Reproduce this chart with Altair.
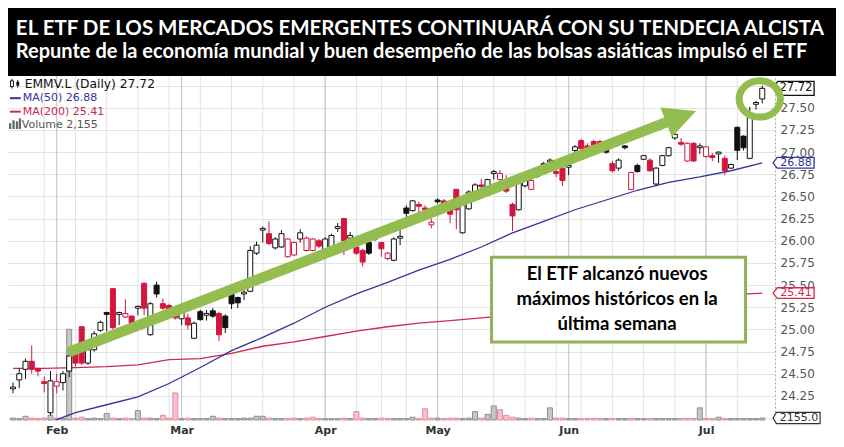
import altair as alt
import pandas as pd

# ---------------- values ----------------
START, END = "2017-01-23", "2017-07-14"
HOLIDAYS = ["2017-04-14", "2017-04-17", "2017-05-01", "2017-05-29"]

OPEN = [24.33, 24.43, 24.55, 24.64, 24.56, 24.41, 24.06, 24.36, 24.40, 24.53,
        24.72, 25.03, 24.62, 24.77, 24.99, 25.19, 25.46, 25.17, 25.14, 25.15,
        25.24, 25.52, 24.94, 25.50, 25.29, 25.27, 25.18, 25.12, 25.13, 24.90,
        25.20, 25.16, 25.21, 25.18, 25.15, 25.40, 25.36, 25.40, 25.43, 25.86,
        26.12, 26.08, 25.92, 25.93, 25.82, 25.84, 26.02, 25.89, 25.89, 26.00,
        25.90, 25.92, 26.14, 26.25, 26.03, 25.93, 25.89, 25.98, 26.02, 25.98,
        25.80, 25.78, 26.03, 26.37, 26.34, 26.41, 26.37, 26.18, 26.46, 26.45,
        26.42, 26.58, 26.09, 26.36, 26.55, 26.63, 26.60, 26.76, 26.69, 26.62,
        26.41, 26.35, 26.62, 26.58, 26.76, 26.87, 26.89, 26.78, 26.82, 26.83,
        27.02, 27.13, 27.07, 27.12, 27.12, 27.05, 26.87, 26.82, 27.07, 26.58,
        26.85, 26.92, 26.91, 26.64, 26.85, 26.96, 27.16, 27.11, 26.90, 27.10,
        27.05, 26.95, 26.96, 26.98, 26.93, 26.82, 27.28, 27.18, 26.93, 27.54,
        27.60]
HIGH = [24.40, 24.56, 24.67, 24.82, 24.56, 24.47, 24.53, 24.50, 24.53, 24.73,
        24.75, 25.04, 24.79, 24.98, 25.10, 25.20, 25.46, 25.20, 25.34, 25.16,
        25.27, 25.53, 25.31, 25.54, 25.35, 25.29, 25.21, 25.27, 25.18, 25.09,
        25.22, 25.22, 25.24, 25.20, 25.17, 25.42, 25.37, 25.46, 25.94, 25.99,
        26.16, 26.22, 26.04, 26.12, 26.03, 25.99, 26.13, 26.05, 26.03, 26.02,
        26.04, 26.08, 26.20, 26.26, 26.10, 25.94, 25.91, 26.00, 26.10, 25.98,
        25.87, 26.04, 26.12, 26.40, 26.46, 26.44, 26.40, 26.25, 26.48, 26.47,
        26.44, 26.58, 26.47, 26.57, 26.65, 26.70, 26.70, 26.80, 26.80, 26.74,
        26.43, 26.76, 26.71, 26.70, 26.78, 26.89, 26.93, 26.80, 26.84, 26.86,
        27.08, 27.15, 27.10, 27.14, 27.14, 27.07, 26.90, 26.93, 27.08, 26.78,
        26.87, 26.97, 26.93, 26.83, 26.97, 27.06, 27.22, 27.16, 27.11, 27.11,
        27.10, 27.07, 26.99, 27.01, 26.96, 26.87, 27.29, 27.19, 27.51, 27.58,
        27.75]
LOW = [24.28, 24.34, 24.44, 24.50, 24.47, 24.29, 24.03, 24.28, 24.31, 24.46,
       24.58, 24.60, 24.60, 24.75, 24.97, 24.98, 25.00, 25.05, 25.13, 25.04,
       25.16, 25.16, 24.93, 25.36, 25.22, 25.19, 25.11, 25.05, 25.00, 24.89,
       25.10, 25.10, 25.13, 24.87, 24.96, 25.23, 25.24, 25.33, 25.42, 25.84,
       25.98, 25.95, 25.90, 25.92, 25.81, 25.83, 25.98, 25.88, 25.88, 25.92,
       25.88, 25.90, 26.10, 25.84, 26.00, 25.84, 25.71, 25.84, 26.00, 25.82,
       25.78, 25.77, 25.95, 26.26, 26.33, 26.32, 26.30, 26.14, 26.42, 26.39,
       26.20, 26.13, 26.08, 26.35, 26.53, 26.56, 26.58, 26.69, 26.68, 26.54,
       26.11, 26.34, 26.60, 26.57, 26.71, 26.82, 26.86, 26.72, 26.62, 26.74,
       27.00, 27.02, 27.00, 27.06, 27.06, 26.98, 26.77, 26.79, 27.03, 26.57,
       26.77, 26.91, 26.78, 26.62, 26.84, 26.95, 27.14, 27.07, 26.89, 26.89,
       26.98, 26.94, 26.90, 26.88, 26.74, 26.81, 26.91, 27.02, 26.92, 27.48,
       27.55]
CLOSE = [24.35, 24.50, 24.64, 24.55, 24.53, 24.39, 24.42, 24.41, 24.50, 24.70,
         24.62, 24.62, 24.77, 24.95, 25.08, 25.17, 25.02, 25.19, 25.18, 25.07,
         25.26, 25.24, 25.29, 25.40, 25.24, 25.22, 25.13, 25.20, 25.05, 25.07,
         25.11, 25.18, 25.15, 24.94, 25.02, 25.29, 25.30, 25.42, 25.89, 25.95,
         26.14, 25.97, 26.02, 26.08, 26.02, 25.98, 26.09, 26.03, 26.02, 25.94,
         26.02, 26.06, 26.16, 26.00, 26.06, 25.86, 25.76, 25.86, 26.08, 25.91,
         25.86, 26.02, 26.05, 26.31, 26.45, 26.39, 26.35, 26.21, 26.44, 26.41,
         26.30, 26.35, 26.45, 26.55, 26.63, 26.61, 26.69, 26.78, 26.76, 26.56,
         26.28, 26.74, 26.69, 26.68, 26.73, 26.84, 26.91, 26.76, 26.68, 26.85,
         27.06, 27.04, 27.03, 27.08, 27.09, 27.00, 26.79, 26.91, 27.05, 26.77,
         26.78, 26.96, 26.79, 26.82, 26.96, 27.05, 27.20, 27.09, 27.10, 26.90,
         27.07, 27.06, 26.94, 27.00, 26.79, 26.86, 27.02, 27.05, 27.39, 27.56,
         27.72]
# k = black candle (up vs previous close), r = red candle
COLOR = list("kkkrrrkrkk" "rrkkkkrkrr" "krkkrrrkrk" "kkkrkkkkkk" "krkkrrkrrr"
             "kkkrkrrkkr" "rkkkkrrrkr" "rrkkkrkkrr" "rkkrkkkrrk" "krrrrkrkkr"
             "kkrkkkkrrr" "krrkrkkkkk" "k")
VOLUME = [2000, 1500, 4000, 2000, 1500, 2000, 5000, 2000, 1500, 97000,
          2000, 3000, 1500, 2000, 1500, 7000, 2000, 1500, 2000, 1500,
          10000, 2000, 2000, 1500, 5000, 2000, 29000, 1500, 2000, 1500,
          1500, 1500, 4000, 2000, 1500, 1500, 1500, 2000, 2000, 4000,
          4000, 2000, 1500, 1500, 1500, 2000, 1500, 2000, 3000, 1500,
          1500, 1500, 1500, 2000, 1500, 9000, 2000, 1500, 1500, 2000,
          1500, 1500, 1500, 1500, 3000, 1500, 12000, 2000, 2000, 1500,
          2000, 2000, 1500, 2000, 9000, 2000, 6000, 15000, 11000, 5000,
          3000, 2000, 1500, 2000, 1500, 1500, 13000, 2000, 2000, 1500,
          1500, 1500, 1500, 1500, 1500, 1500, 1500, 1500, 1500, 1500,
          1500, 1500, 1500, 1500, 1500, 1500, 1500, 1500, 1500, 1500,
          13000, 1500, 1500, 3000, 1500, 1500, 1500, 1500, 1500, 1500,
          2155]

MA_DAYS = [0, 5, 10, 15, 20, 25, 30, 35, 40, 45, 50, 55, 60, 65, 70, 75, 80,
           85, 90, 95, 100, 105, 110, 115, 120]
MA50 = [23.82, 23.93, 24.06, 24.15, 24.24, 24.39, 24.57, 24.76, 24.91, 25.07,
        25.25, 25.40, 25.53, 25.67, 25.79, 25.93, 26.09, 26.22, 26.35, 26.46,
        26.57, 26.66, 26.72, 26.79, 26.88]
MA200 = [24.56, 24.56, 24.57, 24.58, 24.60, 24.66, 24.67, 24.73, 24.81, 24.86,
         24.92, 24.98, 25.03, 25.07, 25.10, 25.13, 25.16, 25.19, 25.23, 25.26,
         25.29, 25.33, 25.36, 25.39, 25.41]

MONTHS = ["Feb", "Mar", "Apr", "May", "Jun", "Jul"]
PRICE_TICKS = [24.00, 24.25, 24.50, 24.75, 25.00, 25.25, 25.50, 25.75,
               26.00, 26.25, 26.50, 26.75, 27.00, 27.25, 27.50, 27.75]
LAST_CLOSE, LAST_MA50, LAST_MA200, LAST_VOLUME = 27.72, 26.88, 25.41, 2155

TITLE = "EL ETF DE LOS MERCADOS EMERGENTES CONTINUARÁ CON SU TENDECIA ALCISTA"
SUBTITLE = ("Repunte de la economía mundial y buen desempeño de las bolsas "
            "asiáticas impulsó el ETF")
NOTE = ["El ETF alcanzó nuevos", "máximos históricos en la", "última semana"]
LEGEND = ["EMMV.L (Daily) 27.72", "MA(50) 26.88", "MA(200) 25.41", "Volume 2,155"]

ARROW_FROM = (8.8, 24.74)   # (trading day, price)
ARROW_TO = (107.0, 27.40)
CIRCLE_AT = (119.6, 27.60)

# ---------------- layout / style ----------------
W, H = 767, 344
TOP, BOTTOM, RIGHT = 68, 19, 61
SX, SY = W / 782.0, H / 357.0


def px(x):
    return x * SX


def py(y):
    return (y - 70) * SY


GREEN = "#93bd4f"
NAVY = "#34349a"
CRIMSON = "#d0284f"
RED = "#d3163f"
BLACK = "#111111"

dates = pd.bdate_range(START, END)
dates = dates[~dates.isin(pd.to_datetime(HOLIDAYS))]
n = len(dates)

df = pd.DataFrame({"i": list(range(n)), "date": dates.strftime("%Y-%m-%d"),
                   "open": OPEN, "high": HIGH, "low": LOW, "close": CLOSE,
                   "col": COLOR, "volume": VOLUME})
df["stroke"] = [BLACK if c == "k" else RED for c in COLOR]
df["fill"] = ["#ffffff" if c > o else s for o, c, s in zip(OPEN, CLOSE, df["stroke"])]
df["vfill"] = ["#c6c6c6" if c == "k" else "#f6c0ca" for c in COLOR]
df["vstroke"] = ["#8e8e8e" if c == "k" else "#e38a9d" for c in COLOR]

month_start = [i for i in range(1, n) if dates[i].month != dates[i - 1].month]
week_start = [i for i in range(1, n)
              if dates[i].isocalendar()[1] != dates[i - 1].isocalendar()[1]]

X_SCALE = alt.Scale(domain=[0, 121.24], nice=False, zero=False)
Y_SCALE = alt.Scale(domain=[23.978, 27.859], nice=False, zero=False)
V_SCALE = alt.Scale(domain=[0, 368000], nice=False, zero=False)

label_expr = " : ".join(f"datum.value == {i} ? '{m}'"
                        for i, m in zip(month_start, MONTHS)) + " : ''"
# labels hidden behind the value tags in the reference are left blank
y_label_expr = ("datum.value < 24.1 || datum.value > 27.7 ? '' : "
                "format(datum.value, '.2f')")
X_AXIS = alt.Axis(values=month_start, labelExpr=label_expr, grid=False, ticks=False,
                  domain=False, labelFont="DejaVu Sans", labelFontWeight="bold",
                  labelFontSize=11, labelColor="#333333", labelPadding=4,
                  labelOverlap=False, title=None)
Y_AXIS = alt.Axis(orient="right", values=PRICE_TICKS, labelExpr=y_label_expr, grid=True,
                  gridColor="#e2e2e2", ticks=False, domain=True, domainColor="#aaaaaa",
                  domainDash=[2, 2], labelFont="DejaVu Sans", labelFontSize=12,
                  labelColor="#555555", labelPadding=5, labelOverlap=False, title=None)


def X(field="i"):
    return alt.X(f"{field}:Q", scale=X_SCALE, axis=X_AXIS)


def Y(field):
    return alt.Y(f"{field}:Q", scale=Y_SCALE, axis=Y_AXIS)


one = pd.DataFrame({"k": [0]})

# gridlines
grid_week = alt.Chart(pd.DataFrame({"i": week_start})).mark_rule(
    color="#e2e2e2", strokeWidth=1).encode(x=X())
grid_month = alt.Chart(pd.DataFrame({"i": month_start})).mark_rule(
    color="#c2c2c2", strokeWidth=1).encode(x=X())

# volume
vol_bars = alt.Chart(df).mark_bar(size=5, strokeWidth=1).encode(
    x=X(), y=alt.Y("volume:Q", scale=V_SCALE, axis=None), y2=alt.datum(0),
    fill=alt.Fill("vfill:N", scale=None), stroke=alt.Stroke("vstroke:N", scale=None))
VTAG = "M -1 0 L -0.86 -0.24 L 1 -0.24 L 1 0.24 L -0.86 0.24 Z"
vdf = pd.DataFrame({"v": [LAST_VOLUME], "label": [f"{LAST_VOLUME:.1f}"]})
vol_tag = alt.Chart(vdf).mark_point(
    shape=VTAG, size=2209, filled=True, fill="white", stroke="#333333",
    strokeWidth=1.2, opacity=1, fillOpacity=1, strokeOpacity=1).encode(
    x=alt.value(W + 21.6), y=alt.Y("v:Q", scale=V_SCALE, axis=None))
vol_txt = alt.Chart(vdf).mark_text(
    font="DejaVu Sans", fontSize=11, color="#333333", align="center",
    baseline="middle").encode(
    x=alt.value(W + 24), y=alt.Y("v:Q", scale=V_SCALE, axis=None), text="label:N")
volume_group = alt.layer(vol_bars, vol_tag, vol_txt)

# moving averages
ma = pd.DataFrame({"i": MA_DAYS, "ma50": MA50, "ma200": MA200})
ma200 = alt.Chart(ma).mark_line(color=CRIMSON, strokeWidth=1.3, clip=True).encode(
    x=X(), y=Y("ma200"))
ma50 = alt.Chart(ma).mark_line(color=NAVY, strokeWidth=1.3, clip=True).encode(
    x=X(), y=Y("ma50"))

# candles
wicks = alt.Chart(df).mark_rule(strokeWidth=1, clip=True).encode(
    x=X(), y=Y("low"), y2="high:Q", color=alt.Color("stroke:N", scale=None))
bodies = alt.Chart(df).mark_bar(size=5, strokeWidth=1, clip=True).encode(
    x=X(), y=Y("open"), y2="close:Q",
    fill=alt.Fill("fill:N", scale=None), stroke=alt.Stroke("stroke:N", scale=None))

# arrow
adf = pd.DataFrame({"i": [ARROW_FROM[0]], "p": [ARROW_FROM[1]],
                    "i2": [ARROW_TO[0]], "p2": [ARROW_TO[1]]})
shaft = alt.Chart(adf).mark_rule(color=GREEN, strokeWidth=10.5, strokeCap="butt").encode(
    x=X(), y=Y("p"), x2="i2:Q", y2="p2:Q")
HEAD = "M -1 -1 L 1 0 L -1 1 Z"
head = alt.Chart(adf).mark_point(
    shape=HEAD, size=1024, angle=339, filled=True, color=GREEN, opacity=1,
    strokeWidth=0).encode(x=X("i2"), y=Y("p2"))

# price tags on the right axis: last close (taller) and the two averages
close_tag = pd.DataFrame({"p": [LAST_CLOSE], "label": [f"{LAST_CLOSE:.2f}"], "col": [BLACK]})
ma_tags = pd.DataFrame({"p": [LAST_MA50, LAST_MA200],
                        "label": [f"{LAST_MA50:.2f}", f"{LAST_MA200:.2f}"],
                        "col": [NAVY, CRIMSON]})
TAG_TALL = "M -1 0 L -0.78 -0.34 L 1 -0.34 L 1 0.34 L -0.78 0.34 Z"
TAG_LOW = "M -1 0 L -0.8 -0.26 L 1 -0.26 L 1 0.26 L -0.8 0.26 Z"
tag_layers = []
for data, shape, fs in ((close_tag, TAG_TALL, 11.5), (ma_tags, TAG_LOW, 11)):
    tag_layers.append(alt.Chart(data).mark_point(
        shape=shape, size=1681, filled=True, fill="white", strokeWidth=1.3, opacity=1,
        fillOpacity=1, strokeOpacity=1).encode(
        x=alt.value(W + 18.6), y=Y("p"), stroke=alt.Stroke("col:N", scale=None)))
    tag_layers.append(alt.Chart(data).mark_text(
        font="DejaVu Sans", fontSize=fs, align="center", baseline="middle").encode(
        x=alt.value(W + 21), y=Y("p"), text="label:N",
        color=alt.Color("col:N", scale=None)))

# green circle around the latest highs
cdf = pd.DataFrame({"i": [CIRCLE_AT[0]], "p": [CIRCLE_AT[1]]})
ELLIPSE = "M -1 0 A 1 0.88 0 1 1 1 0 A 1 0.88 0 1 1 -1 0 Z"
circle = alt.Chart(cdf).mark_point(
    shape=ELLIPSE, size=1700, filled=False, stroke=GREEN, strokeWidth=7,
    opacity=1, strokeOpacity=1).encode(x=X(), y=Y("p"))

price_group = alt.layer(ma200, ma50, wicks, bodies, shaft, head, *tag_layers, circle)

# annotation box
ann_box = alt.Chart(one).mark_rect(fill="white", stroke="#92b05a", strokeWidth=3).encode(
    x=alt.value(px(493)), x2=alt.value(px(752)), y=alt.value(py(258)), y2=alt.value(py(346)))
ann_texts = []
for k, line in enumerate(NOTE):
    ann_texts.append(alt.Chart(one).mark_text(
        font="Lato", fontWeight="bold", fontSize=18.5, color="black", align="center",
        baseline="middle").encode(
        x=alt.value(px(621)), y=alt.value(py(275 + 26 * k)), text=alt.value(line)))

# banner with title
banner = alt.Chart(one).mark_rect(fill="black").encode(
    x=alt.value(0), x2=alt.value(W + RIGHT), y=alt.value(-TOP), y2=alt.value(0))
title_txt = alt.Chart(one).mark_text(
    font="Lato", fontWeight="bold", fontSize=20.5, color="white", align="left",
    baseline="alphabetic").encode(x=alt.value(px(8)), y=alt.value(py(27)), text=alt.value(TITLE))
subtitle_txt = alt.Chart(one).mark_text(
    font="Lato", fontWeight="bold", fontSize=20, color="white", align="left",
    baseline="alphabetic").encode(x=alt.value(px(8)), y=alt.value(py(51)), text=alt.value(SUBTITLE))

# legend at top-left
leg = []
leg_y = [78, 93, 107, 121]
leg_x = [17, 15, 15, 14]
leg_col = [BLACK, NAVY, CRIMSON, "#555555"]
leg_size = [12.3, 11, 11, 11]
for k in range(4):
    leg.append(alt.Chart(one).mark_text(
        font="DejaVu Sans", fontSize=leg_size[k], color=leg_col[k], align="left",
        baseline="middle").encode(
        x=alt.value(px(leg_x[k])), y=alt.value(py(leg_y[k])), text=alt.value(LEGEND[k])))
# icons
leg.append(alt.Chart(one).mark_rule(color=BLACK, strokeWidth=1).encode(
    x=alt.value(px(4)), y=alt.value(py(73)), y2=alt.value(py(83))))
leg.append(alt.Chart(one).mark_rect(fill="white", stroke=BLACK, strokeWidth=1).encode(
    x=alt.value(px(2.5)), x2=alt.value(px(5.5)), y=alt.value(py(75)), y2=alt.value(py(81))))
leg.append(alt.Chart(one).mark_rule(color=BLACK, strokeWidth=1).encode(
    x=alt.value(px(10)), y=alt.value(py(74)), y2=alt.value(py(82))))
leg.append(alt.Chart(one).mark_rect(fill=BLACK).encode(
    x=alt.value(px(8.5)), x2=alt.value(px(11.5)), y=alt.value(py(76)), y2=alt.value(py(80))))
for k, c in ((1, NAVY), (2, CRIMSON)):
    leg.append(alt.Chart(one).mark_rule(color=c, strokeWidth=2).encode(
        x=alt.value(px(2)), x2=alt.value(px(13)), y=alt.value(py(leg_y[k]))))
for x0, top in ((1, 119), (4.5, 116), (8, 117), (11, 114)):
    leg.append(alt.Chart(one).mark_rect(fill="#666666").encode(
        x=alt.value(px(x0)), x2=alt.value(px(x0 + 2.3)), y=alt.value(py(top)),
        y2=alt.value(py(125))))

chart = alt.layer(
    grid_week, grid_month, volume_group, price_group, ann_box, *ann_texts,
    banner, title_txt, subtitle_txt, *leg
).resolve_scale(y="independent").properties(
    width=W, height=H,
    autosize=alt.AutoSizeParams(type="none"),
    padding={"left": 0, "top": TOP, "right": RIGHT, "bottom": BOTTOM},
).configure(background="white").configure_view(strokeWidth=0)

chart.save("out.html", embed_options={"renderer": "svg", "actions": False})
